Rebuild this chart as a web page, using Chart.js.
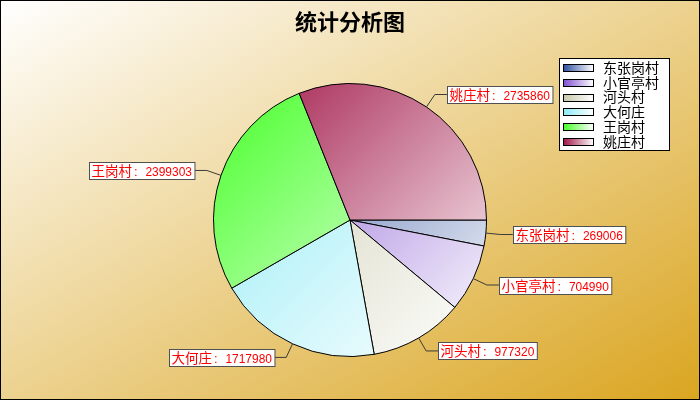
<!DOCTYPE html>
<html><head><meta charset="utf-8">
<script src="https://cdn.jsdelivr.net/npm/chart.js@4/dist/chart.umd.min.js"></script>
<style>html,body{margin:0;padding:0;background:#fff}#wrap{width:700px;height:400px;position:relative}</style>
</head><body><div id="wrap"><canvas id="c" width="700" height="400"></canvas></div>
<script>
const titleText = '统计分析图';
const categories = ['东张岗村', '小官亭村', '河头村', '大何庄', '王岗村', '姚庄村'];
const values = [269006, 704990, 977320, 1717980, 2399303, 2735860];
const baseColors = ['#2f4f9f', '#8050d0', '#c8c8aa', '#8cebf5', '#46ff28', '#a01446'];

function pieFill(ctx) {
  const i = ctx.dataIndex;
  const chart = ctx.chart;
  const a = chart.chartArea;
  if (!a || i === undefined) return baseColors[i || 0];
  const cx = (a.left + a.right) / 2, cy = (a.top + a.bottom) / 2;
  const r = Math.min(a.right - a.left, a.bottom - a.top) / 2;
  const g = chart.ctx.createLinearGradient(cx - r, cy - r, cx + r, cy + r);
  g.addColorStop(0, baseColors[i]);
  g.addColorStop(1, '#ffffff');
  return g;
}

const bgPlugin = {
  id: 'bg',
  beforeDraw(chart) {
    const c = chart.ctx, W = chart.width, H = chart.height;
    c.save();
    const g = c.createLinearGradient(177.7, -101.5, 522.3, 501.5);
    g.addColorStop(0, '#ffffff');
    g.addColorStop(1, '#daa520');
    c.fillStyle = g;
    c.fillRect(0, 0, W, H);
    c.fillStyle = '#000';
    c.font = 'bold 22px "Noto Sans CJK SC"';
    c.textAlign = 'center';
    c.textBaseline = 'middle';
    c.fillText(titleText, W / 2, 22);
    c.restore();
  },
  afterDraw(chart) {
    const c = chart.ctx;
    c.save();
    c.strokeStyle = '#000';
    c.lineWidth = 1;
    c.strokeRect(0.5, 0.5, chart.width - 1, chart.height - 1);
    c.restore();
  }
};

const cjkFont = '13.5px "Noto Sans CJK SC"';
const numFont = '13px "Liberation Sans"';
const numScale = 0.92;
const halfW = 6.7;

const labelPlugin = {
  id: 'sliceLabels',
  afterDatasetsDraw(chart) {
    const c = chart.ctx;
    const meta = chart.getDatasetMeta(0);
    c.save();
    c.textBaseline = 'alphabetic';
    c.textAlign = 'left';
    meta.data.forEach((arc, i) => {
      const p = arc.getProps(['x', 'y', 'startAngle', 'endAngle', 'outerRadius'], true);
      const mid = (p.startAngle + p.endAngle) / 2;
      const cs = Math.cos(mid), sn = Math.sin(mid);
      const x1 = p.x + cs * p.outerRadius, y1 = p.y + sn * p.outerRadius;
      const x2 = p.x + cs * (p.outerRadius + 15), y2 = p.y + sn * (p.outerRadius + 15);
      const side = cs >= 0 ? 1 : -1;
      const x3 = x2 + side * 12;
      c.strokeStyle = '#3a3a3a';
      c.lineWidth = 1;
      c.beginPath();
      c.moveTo(x1, y1); c.lineTo(x2, y2); c.lineTo(x3, y2);
      c.stroke();
      const name = chart.data.labels[i];
      const num = String(chart.data.datasets[0].data[i]);
      c.font = cjkFont;
      const w1 = c.measureText(name).width;
      c.font = numFont;
      const w3 = c.measureText(num).width * numScale;
      const w = 2 + w1 + 2 * halfW + w3 + 3;
      const h = 17;
      const bx = side > 0 ? x3 : x3 - w;
      const by = Math.round(y2 - h / 2) + 0.5;
      const bxr = Math.round(bx) + 0.5;
      c.fillStyle = '#ffffff';
      c.fillRect(bxr, by, w, h);
      c.strokeStyle = '#505050';
      c.strokeRect(bxr, by, w, h);
      c.fillStyle = '#ff0000';
      const base = by + h / 2 + 5;
      c.font = cjkFont;
      c.fillText(name, bxr + 2, base);
      c.font = numFont;
      c.fillText(':', bxr + 2 + w1 + 2, base);
      c.save();
      c.translate(bxr + 2 + w1 + 2 * halfW, base);
      c.scale(numScale, 1);
      c.fillText(num, 0, 0);
      c.restore();
    });
    c.restore();
  }
};

const legendPlugin = {
  id: 'boxLegend',
  afterDraw(chart) {
    const c = chart.ctx;
    const lx = 559.5, ly = 58.5, lw = 110, lh = 92;
    c.save();
    c.fillStyle = '#ffffff';
    c.fillRect(lx, ly, lw, lh);
    c.strokeStyle = '#000';
    c.lineWidth = 1;
    c.strokeRect(lx, ly, lw, lh);
    c.font = '14px "Noto Sans CJK SC"';
    c.textBaseline = 'middle';
    c.textAlign = 'left';
    chart.data.labels.forEach((lab, i) => {
      const cy = 67.5 + i * 14.8;
      const sx = 563.5, sy = Math.round(cy - 3.5) + 0.5, sw = 30, sh = 7;
      const g = c.createLinearGradient(sx, 0, sx + sw, 0);
      g.addColorStop(0, baseColors[i]);
      g.addColorStop(1, '#ffffff');
      c.fillStyle = g;
      c.fillRect(sx, sy, sw, sh);
      c.strokeStyle = '#000';
      c.strokeRect(sx, sy, sw, sh);
      c.fillStyle = '#000';
      c.fillText(lab, 603, cy);
    });
    c.restore();
  }
};

new Chart(document.getElementById('c'), {
  type: 'pie',
  data: {
    labels: categories,
    datasets: [{
      data: values,
      backgroundColor: pieFill,
      borderColor: '#000000',
      borderWidth: 1
    }]
  },
  options: {
    responsive: false,
    animation: false,
    rotation: 90,
    layout: { padding: { left: 213, right: 213, top: 83, bottom: 43 } },
    plugins: { legend: { display: false }, title: { display: false }, tooltip: { enabled: false } },
    events: []
  },
  plugins: [bgPlugin, labelPlugin, legendPlugin]
});
</script></body></html>
